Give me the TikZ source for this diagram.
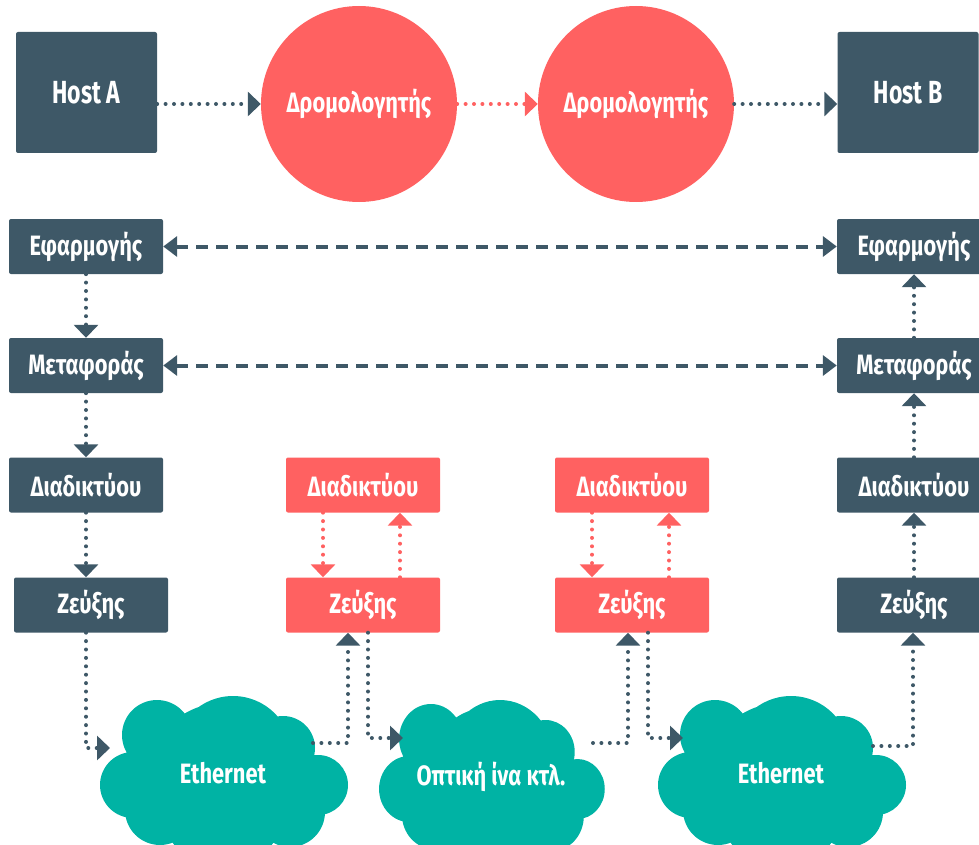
\documentclass[tikz,border=0pt]{standalone}
\usepackage{fontspec}
\setmainfont{Fira Sans}[FakeStretch=0.78]
\newfontfamily\hostfont{Fira Sans}[FakeStretch=0.72]
\usepackage{xcolor}
\usetikzlibrary{positioning, arrows.meta}

\definecolor{slate}{HTML}{3E5867}
\definecolor{coral}{HTML}{FF6161}
\definecolor{cloudgreen}{HTML}{00B3A4}

\tikzset{
  layer/.style={rectangle, rounded corners=2pt, fill=#1, text=white,
    minimum width=154pt, minimum height=55pt, inner sep=0pt,
    font=\bfseries\fontsize{28}{28}\selectfont},
  host/.style={layer=slate, minimum width=141pt, minimum height=121pt,
    font=\hostfont\bfseries\fontsize{32}{32}\selectfont},
  router/.style={circle, fill=coral, text=white, minimum size=196pt,
    inner sep=0pt, font=\bfseries\fontsize{28}{28}\selectfont},
  cloudtext/.style={text=white, inner sep=0pt,
    font=\bfseries\fontsize{28}{28}\selectfont},
  dots/.style={draw=#1, line width=4pt, line cap=round,
    dash pattern=on 0pt off 8.4pt, -{Triangle[length=13pt,width=24pt]}},
  dashes/.style={draw=slate, line width=4pt, dash pattern=on 12pt off 8pt,
    {Triangle[length=14pt,width=20pt]}-{Triangle[length=14pt,width=20pt]}}
}

\begin{document}
\begin{tikzpicture}[x=1pt, y=-1pt]
  \useasboundingbox (0,0) rectangle (979,845);
  \clip (0,0) rectangle (979,845);
  % hosts and routers
  \node[host] (hostA) at (86.5,92.5) {Host A};
  \node[router] (rtA) at (359,104) {Δρομολογητής};
  \node[router] (rtB) at (636,104) {Δρομολογητής};
  \node[host] (hostB) at (908,92.5) {Host B};
  \draw[dots=slate] (hostA.east |- rtA.west) -- (rtA.west);
  \draw[dots=coral] (rtA.east) -- (rtB.west);
  \draw[dots=slate] (rtB.east) -- (rtB.east -| hostB.west);
  % protocol stacks
  \foreach \y/\name/\txt in {246.5/app/Εφαρμογής, 365.5/trans/Μεταφοράς,
      485/net/Διαδικτύου}{
    \node[layer=slate] (\name L) at (86,\y) {\txt};
    \node[layer=slate] (\name R) at (914,\y) {\txt};
  }
  \node[layer=slate] (linkL) at (91,605) {Ζεύξης};
  \node[layer=slate] (linkR) at (914,605) {Ζεύξης};
  \node[layer=coral] (netX) at (363,485) {Διαδικτύου};
  \node[layer=coral] (linkX) at (363,605) {Ζεύξης};
  \node[layer=coral] (netY) at (632,485) {Διαδικτύου};
  \node[layer=coral] (linkY) at (632,605) {Ζεύξης};
  % peer layers
  \draw[dashes] (appL.east) -- (appR.west);
  \draw[dashes] (transL.east) -- (transR.west);
  % down the sender, up the receiver
  \draw[dots=slate] (appL) -- (transL);
  \draw[dots=slate] (transL) -- (netL);
  \draw[dots=slate] (netL.south) -- (netL.south |- linkL.north);
  \draw[dots=slate] (linkR) -- (netR);
  \draw[dots=slate] (netR) -- (transR);
  \draw[dots=slate] (transR) -- (appR);
  % inside the routers
  \foreach \r in {X,Y}{
    \draw[dots=coral] ([xshift=-40pt]net\r.south) -- ([xshift=-40pt]link\r.north);
    \draw[dots=coral] ([xshift=37pt]link\r.north) -- ([xshift=37pt]net\r.south);
  }
  % clouds
  \foreach \cx/\cy/\sx/\name/\txt in {223/773/1/cl1/Ethernet,
      491/777/0.91/cl2/{Οπτική ίνα κτλ.}, 781/773/1/cl3/Ethernet}{
    \begin{scope}[shift={(\cx,\cy)}, xscale=\sx]
      \fill[cloudgreen] (-66,-38) circle (35) (10,-18) circle (59)
        (60,-25) circle (32) (95,12) circle (30) (-90,12) circle (33)
        (-63,37) circle (35) (67,39) circle (35) (0,37) circle (60)
        (0,5) circle (75);
    \end{scope}
    \node[cloudtext] (\name) at (\cx,\cy) {\txt};
  }
  \coordinate (cl1in) at (110,748);
  \coordinate (cl1out) at (313,743);
  \coordinate (cl2in) at (403,738);
  \coordinate (cl2out) at (593,743);
  \coordinate (cl3in) at (683,738);
  \coordinate (cl3out) at (873,746);
  % links through the networks
  \draw[dots=slate] ([xshift=-5pt]linkL.south) |- (cl1in);
  \draw[dots=slate] (cl1out) -| ([xshift=-15pt]linkX.south);
  \draw[dots=slate] ([xshift=5pt]linkX.south) |- (cl2in);
  \draw[dots=slate] (cl2out) -| ([xshift=-4pt]linkY.south);
  \draw[dots=slate] ([xshift=16pt]linkY.south) |- (cl3in);
  \draw[dots=slate] (cl3out) -| ([xshift=-1pt]linkR.south);
\end{tikzpicture}
\end{document}
